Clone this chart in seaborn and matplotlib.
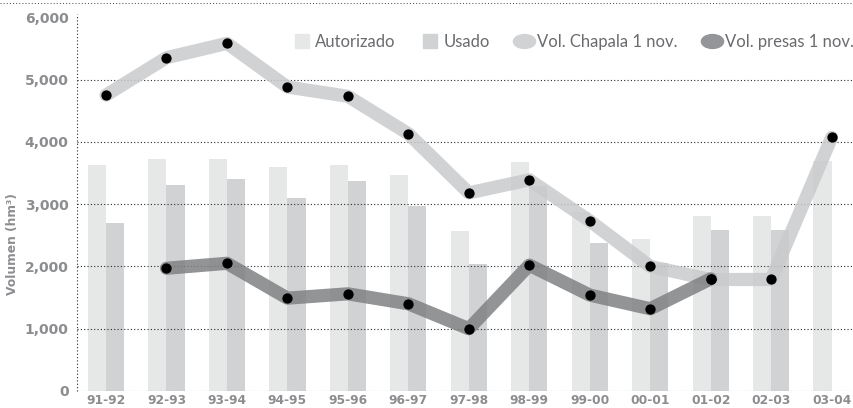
import numpy as np
import pandas as pd
import matplotlib
matplotlib.use("Agg")
import matplotlib.pyplot as plt
from matplotlib.lines import Line2D
from matplotlib.path import Path
import seaborn as sns

# Hydrological years (Nov-Oct)
periods = ["91-92", "92-93", "93-94", "94-95", "95-96", "96-97", "97-98",
           "98-99", "99-00", "00-01", "01-02", "02-03", "03-04"]

# Authorized and used volumes (hm3)
autorizado = [3620, 3720, 3720, 3600, 3620, 3460, 2570, 3670, 2870, 2440, 2810, 2810, 3690]
usado = [2700, 3300, 3400, 3100, 3370, 2970, 2040, 3290, 2380, 2050, 2580, 2580, np.nan]

# Storage on 1 November (hm3)
chapala = [4750, 5350, 5580, 4880, 4730, 4130, 3180, 3390, 2730, 2000, 1790, 1790, 4070]
presas_periods = ["92-93", "93-94", "94-95", "95-96", "96-97", "97-98",
                  "98-99", "99-00", "00-01", "01-02"]
presas = [1970, 2050, 1490, 1560, 1400, 1000, 2020, 1540, 1320, 1800]

y_ticks = [0, 1000, 2000, 3000, 4000, 5000, 6000]

sns.set_style("white")
plt.rcParams["font.family"] = ["DejaVu Sans"]

C_AUT = "#e6e7e7"
C_USO = "#d1d2d3"
C_CHAP = "#c9cacc"
C_PRES = "#808183"
TICK = "#8c8d90"
DOTS = (0, (1, 2))

W, H = 854, 408
fig = plt.figure(figsize=(W / 100, H / 100), dpi=100)
ax = fig.add_axes([77 / W, 1 - 391 / H, 1 - 77 / W, 388 / H])

bars = pd.DataFrame({
    "Periodo": periods * 2,
    "Serie": ["Autorizado"] * len(periods) + ["Usado"] * len(periods),
    "Volumen": autorizado + usado,
})
sns.barplot(data=bars, x="Periodo", y="Volumen", hue="Serie",
            palette=[C_AUT, C_USO], width=0.6, gap=0, saturation=1,
            linewidth=0, legend=False, ax=ax, zorder=1)

x_chap = np.array([periods.index(p) for p in periods])
x_pres = np.array([periods.index(p) for p in presas_periods])

sns.lineplot(x=x_chap, y=chapala, color=C_CHAP, lw=9.5, alpha=0.85, sort=False,
             solid_joinstyle="round", solid_capstyle="round", ax=ax, zorder=3)
sns.lineplot(x=x_pres, y=presas, color=C_PRES, lw=9.5, alpha=0.85, sort=False,
             solid_joinstyle="round", solid_capstyle="round", ax=ax, zorder=3)
sns.scatterplot(x=x_chap, y=chapala, color="black", s=55, linewidth=0, ax=ax, zorder=5)
sns.scatterplot(x=x_pres, y=presas, color="black", s=55, linewidth=0, ax=ax, zorder=5)

x0, x1 = -0.48, 12.37
ax.set_xlim(x0, x1)
ax.set_ylim(0, 6228)
ax.set_xlabel("")
ax.set_ylabel("")

ax.set_yticks(y_ticks)
ax.set_yticklabels([f"{v:,}" for v in y_ticks])
ax.set_xticks(range(len(periods)))
ax.set_xticklabels(periods)
ax.tick_params(axis="y", length=0, pad=6, labelsize=10, labelcolor=TICK)
ax.tick_params(axis="x", length=0, pad=2, labelsize=8.8, labelcolor=TICK)
for lab in ax.get_xticklabels() + ax.get_yticklabels():
    lab.set_fontweight("bold")

ax.set_axisbelow(False)
ax.yaxis.grid(True, color="#2a2a2a", linestyle=DOTS, linewidth=0.8)
ax.xaxis.grid(False)
ax.get_ygridlines()[-1].set_visible(False)
for s in ax.spines.values():
    s.set_visible(False)

# dotted vertical axis line
ax.plot([x0, x0], [0, 6050], color="#2a2a2a", lw=0.8, ls=DOTS, clip_on=False, zorder=2)

# dotted rule across the top of the figure
fig.add_artist(Line2D([0, 1], [1 - 3 / H] * 2, transform=fig.transFigure,
                      color="#555555", lw=0.75, ls=DOTS))

fig.text(13 / W, 1 - 244 / H, "Volumen (hm³)", rotation=90, ha="center", va="center",
         fontsize=8.8, fontweight="bold", color=TICK)

circ = Path.unit_circle()
pill = Path(circ.vertices * np.array([1.6, 1.0]), circ.codes)
handles = [
    Line2D([], [], marker="s", markersize=10, color=C_AUT, ls="none"),
    Line2D([], [], marker="s", markersize=10, color=C_USO, ls="none"),
    Line2D([], [], marker=pill, markersize=16, color="#d1d2d4", ls="none"),
    Line2D([], [], marker=pill, markersize=16, color="#939598", ls="none"),
]
labels = ["Autorizado", "Usado", "Vol. Chapala 1 nov.", "Vol. presas 1 nov."]
fig.legend(handles, labels, loc="center right", bbox_to_anchor=(854 / W, 1 - 42 / H),
           ncol=4, frameon=False, handlelength=1.3, handletextpad=0.15,
           columnspacing=1.4, borderpad=0, borderaxespad=0,
           prop=dict(family="Lato", weight="normal", size=12), labelcolor="#6a6b6e")

fig.savefig("out.png", dpi=100)
